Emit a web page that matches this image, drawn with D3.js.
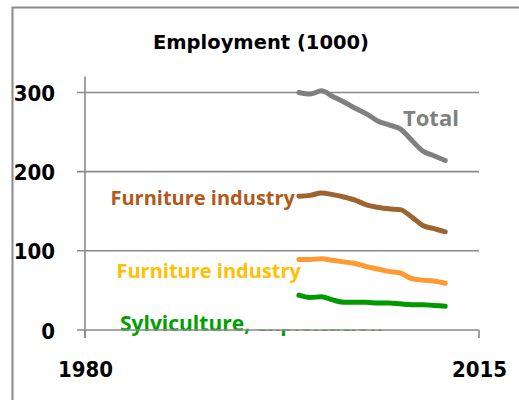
<!DOCTYPE html>
<html>
<head>
<meta charset="utf-8">
<script src="https://cdn.jsdelivr.net/npm/d3@7"></script>
<style>
  body { margin: 0; background: #fff; }
  svg { display: block; }
</style>
</head>
<body>
<div id="chart"></div>
<script>
(function(){

    // data (employment, thousands)
    var years = [1999,2000,2001,2002,2003,2004,2005,2006,2007,2008,2009,2010,2011,2012];
    var total = [300,298,302,295,288,280,273,264,259,254,240,226,220,214];
    var furnitureBrown = [169,170,173,171,168,164,158,155,153,152,143,132,128,124];
    var furnitureOrange = [89,89,90,88,86,84,80,77,74,72,65,63,62,59];
    var sylviculture = [44,41,42,38,35,35,35,34,34,33,32,32,31,30];
    var yTicks = [0,100,200,300];
    var xTicks = [1980,2015];

    var series = [
        {values: total, color: "#808080", label: "Total", labelColor: "#808080", lx: 403, ly: 126, anchor: "start", size: 22},
        {values: furnitureBrown, color: "#9c6430", label: "Furniture industry", labelColor: "#b3581b", lx: 295, ly: 205, anchor: "end", size: 20},
        {values: furnitureOrange, color: "#ff9a33", label: "Furniture industry", labelColor: "#ffc000", lx: 301, ly: 277.5, anchor: "end", size: 20},
        {values: sylviculture, color: "#009a00", label: "Sylviculture, exploitation", labelColor: "#00a000", lx: 120, ly: 331, anchor: "start", size: 21}
    ];

    var canvas = d3.select("#chart")
                .append("svg")
                .attr("width",519)
                .attr("height",400);

    var x = d3.scaleLinear().domain([1980,2015]).range([85,479]);
    var y = d3.scaleLinear().domain([0,320]).range([330,76.6]);

    // outer frame (only left + top show)
    canvas.append("path")
          .attr("d","M12.5,400 L12.5,7.5 L519,7.5")
          .attr("fill","none")
          .attr("stroke","#8a8a8a")
          .attr("stroke-width",2);

    canvas.append("text")
          .attr("x",261)
          .attr("y",48.5)
          .attr("text-anchor","middle")
          .attr("font-family","DejaVu Sans")
          .attr("font-weight","bold")
          .attr("font-size",19.5)
          .attr("fill","#000")
          .text("Employment (1000)");

    // gridlines (with short tick stubs to the left)
    for(var t of yTicks){
        if(t === 0) continue;
        canvas.append("line")
              .attr("x1",77).attr("x2",479)
              .attr("y1",y(t)).attr("y2",y(t))
              .attr("stroke","#8a8a8a")
              .attr("stroke-width",1.6);
    }

    // y axis line
    canvas.append("line")
          .attr("x1",x(1980)).attr("x2",x(1980))
          .attr("y1",y(320)).attr("y2",338)
          .attr("stroke","#8a8a8a")
          .attr("stroke-width",1.6);

    var line = d3.line()
                 .x(function(d,i){ return x(years[i]); })
                 .y(function(d){ return y(d); })
                 .curve(d3.curveMonotoneX);

    for(var s of series){
        canvas.append("path")
              .datum(s.values)
              .attr("d",line)
              .attr("fill","none")
              .attr("stroke",s.color)
              .attr("stroke-width",5)
              .attr("stroke-linecap","round")
              .attr("stroke-linejoin","round");

        canvas.append("text")
              .attr("x",s.lx)
              .attr("y",s.ly)
              .attr("text-anchor",s.anchor)
              .attr("font-family","Open Sans")
              .attr("font-weight","bold")
              .attr("font-size",s.size)
              .attr("fill",s.labelColor)
              .text(s.label);
    }

    // white box that hides most of the last label
    canvas.append("rect")
          .attr("x",253).attr("y",310)
          .attr("width",180).attr("height",19.5)
          .attr("fill","#fff");

    // x axis line + ticks
    canvas.append("line")
          .attr("x1",77).attr("x2",x(2015))
          .attr("y1",y(0)).attr("y2",y(0))
          .attr("stroke","#8a8a8a")
          .attr("stroke-width",1.6);

    for(var t of xTicks){
        canvas.append("line")
              .attr("x1",x(t)).attr("x2",x(t))
              .attr("y1",y(0)).attr("y2",338)
              .attr("stroke","#8a8a8a")
              .attr("stroke-width",1.6);

        canvas.append("text")
              .attr("x",x(t) + 0.5)
              .attr("y",377)
              .attr("text-anchor","middle")
              .attr("font-family","DejaVu Sans Condensed, DejaVu Sans")
              .attr("font-stretch","condensed")
              .attr("font-weight","bold")
              .attr("font-size",22)
              .attr("fill","#000")
              .text(t);
    }

    for(var t of yTicks){
        canvas.append("text")
              .attr("x",55)
              .attr("y",y(t) + 8.5)
              .attr("text-anchor","end")
              .attr("font-family","DejaVu Sans Condensed, DejaVu Sans")
              .attr("font-stretch","condensed")
              .attr("font-weight","bold")
              .attr("font-size",22)
              .attr("fill","#000")
              .text(t);
    }

})();
</script>
</body>
</html>
